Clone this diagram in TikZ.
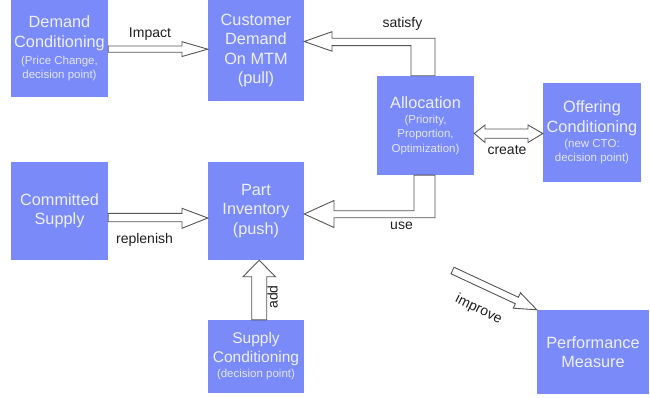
\documentclass[tikz,border=0pt]{standalone}
\usepackage{fontspec}
\setmainfont{Liberation Sans}
\usetikzlibrary{calc}
\definecolor{boxblue}{RGB}{122,138,248}
\definecolor{boxtext}{RGB}{238,240,255}
\definecolor{subtext}{RGB}{226,230,252}
\definecolor{arrowgray}{RGB}{85,85,85}
\definecolor{labeltext}{RGB}{30,30,30}
\newcommand\mainf{\fontsize{16.3}{19.5}\selectfont}
\newcommand\subf{\fontsize{11.5}{14.5}\selectfont\color{subtext}}
\tikzset{
  box/.style={fill=boxblue, draw=none, text=boxtext, align=center, inner sep=0pt, font=\mainf},
  barrow/.style={draw=arrowgray, fill=white, line width=0.9pt, line join=miter},
  lbl/.style={text=labeltext, font=\fontsize{14}{16}\selectfont, inner sep=0pt},
}
\begin{document}
\begin{tikzpicture}[x=1pt,y=-1pt]
\useasboundingbox (0,0) rectangle (650,398);
% boxes
\node[box, minimum width=97pt, minimum height=97pt] (dc) at (59.5,48.5)
  {Demand\\Conditioning\\[-2.8pt]\subf (Price Change,\\[-5pt]\subf decision point)};
\node[box, minimum width=96pt, minimum height=101pt] (cd) at (256,50.5)
  {Customer\\Demand\\On MTM\\(pull)};
\node[box, minimum width=97pt, minimum height=99pt] (al) at (425.5,125.5)
  {Allocation\\[-4.5pt]\subf (Priority,\\[-5pt]\subf Proportion,\\[-5pt]\subf Optimization)};
\node[box, minimum width=98pt, minimum height=99pt] (oc) at (592,132.5)
  {Offering\\Conditioning\\[-4.5pt]\subf (new CTO:\\[-5pt]\subf decision point)};
\node[box, minimum width=97pt, minimum height=98pt] (cs) at (59.5,211)
  {Committed\\Supply};
\node[box, minimum width=96pt, minimum height=98pt] (pi) at (256,211)
  {Part\\Inventory\\(push)};
\node[box, minimum width=96pt, minimum height=73pt, font=\fontsize{15.5}{19}\selectfont] (sc) at (256,356.5)
  {Supply\\Conditioning\\[-4pt]\subf (decision point)};
\node[box, minimum width=112pt, minimum height=84pt] (pm) at (593,352)
  {Performance\\Measure};
% Impact arrow
\draw[barrow] (dc.east |- 0,46) -- (182,46) -- (182,41.7) -- (cd.west |- 0,49.2)
  -- (182,56.5) -- (182,52.3) -- (dc.east |- 0,52.3) -- cycle;
% satisfy arrow
\draw[barrow] (411,0 |- al.north) -- (411,45.7) -- (332,45.7) -- (332,51.2)
  -- (cd.east |- 0,41.5) -- (332,31.7) -- (332,38.3) -- (435,38.3)
  -- (435,0 |- al.north) -- cycle;
% use arrow
\draw[barrow] (414,0 |- al.south) -- (414,210.7) -- (334,210.7) -- (334,200.5)
  -- (pi.east |- 0,214) -- (334,227.5) -- (334,217.7) -- (435,217.7)
  -- (435,0 |- al.south) -- cycle;
% create double arrow
\draw[barrow] (al.east |- 0,133.5) -- (485,125) -- (485,129) -- (528,129) -- (528,125)
  -- (oc.west |- 0,133.5) -- (528,142.5) -- (528,138.3) -- (485,138.3) -- (485,142.5) -- cycle;
% replenish arrow
\draw[barrow] (cs.east |- 0,213.3) -- (182,213.3) -- (182,208.3) -- (pi.west |- 0,218)
  -- (182,228.3) -- (182,221.7) -- (cs.east |- 0,221.7) -- cycle;
% add arrow
\draw[barrow] (251.7,0 |- sc.north) -- (251.7,276.7) -- (243,276.7) -- (259.2,0 |- pi.south)
  -- (275.4,276.7) -- (266.7,276.7) -- (266.7,0 |- sc.north) -- cycle;
% improve arrow
\coordinate (imptail) at (452.5,270.5);
\coordinate (hb) at ($(pm.north west)!22pt!(imptail)$);
\draw[barrow] ($(imptail)!3.6pt!90:(pm.north west)$) -- ($(hb)!3.6pt!-90:(imptail)$)
  -- ($(hb)!8.5pt!-90:(imptail)$) -- (pm.north west) -- ($(hb)!8.5pt!90:(imptail)$)
  -- ($(hb)!3.6pt!90:(imptail)$) -- ($(imptail)!3.6pt!-90:(pm.north west)$) -- cycle;
% labels
\node[lbl] (limpact) at (150,34) {Impact};
\node[lbl] (lsatisfy) at (402.5,24) {satisfy};
\node[lbl] (lcreate) at (507,150) {create};
\node[lbl] (lreplenish) at (144.5,240) {replenish};
\node[lbl] (luse) at (401.5,226) {use};
\node[lbl, rotate=90] (ladd) at (272.5,297) {add};
\node[lbl, rotate=-26] (limprove) at (478.5,309.5) {improve};
\end{tikzpicture}
\end{document}
